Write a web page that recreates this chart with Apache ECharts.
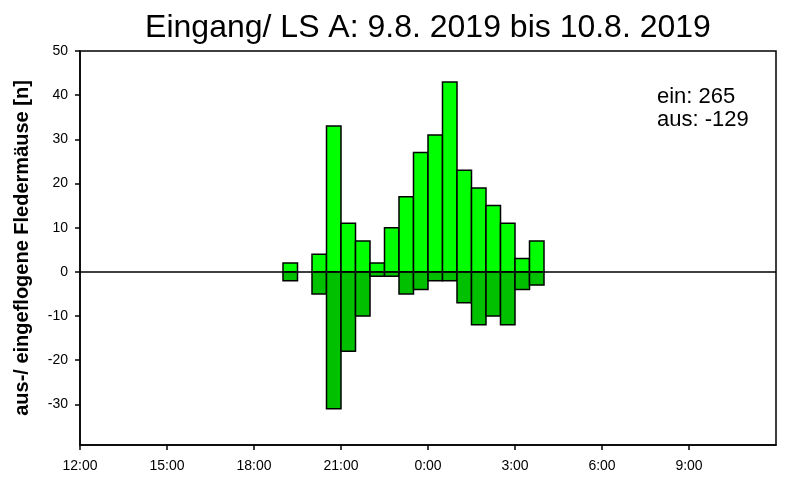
<!DOCTYPE html>
<html>
<head>
<meta charset="utf-8">
<script src="https://cdn.jsdelivr.net/npm/echarts@6/dist/echarts.min.js"></script>
<style>html,body{margin:0;padding:0;background:#fff}#c{width:800px;height:500px}</style>
</head>
<body>
<div id="c"></div>
<script>
// Half-hour bins (start time) and counts
const binStarts = ['19:00','20:00','20:30','21:00','21:30','22:00','22:30','23:00','23:30','0:00','0:30','1:00','1:30','2:00','2:30','3:00','3:30'];
const einValues = [2, 4, 33, 11, 7, 2, 10, 17, 27, 31, 43, 23, 19, 15, 11, 3, 7];
const ausValues = [-2, -5, -31, -18, -10, -1, -1, -5, -4, -2, -2, -7, -12, -10, -12, -4, -3];
const xTickLabels = ['12:00','15:00','18:00','21:00','0:00','3:00','6:00','9:00'];
const yTickValues = [-30, -20, -10, 0, 10, 20, 30, 40, 50];
const titleText = 'Eingang/ LS A: 9.8. 2019 bis 10.8. 2019';
const summaryLines = ['ein: 265', 'aus: -129'];
const yAxisTitle = 'aus-/ eingeflogene Fledermäuse [n]';

// hours since 12:00
function toHours(t) {
  const [h, m] = t.split(':').map(Number);
  return ((h - 12 + 24) % 24) + m / 60;
}
const einData = binStarts.map((t, i) => [toHours(t), einValues[i]]);
const ausData = binStarts.map((t, i) => [toHours(t), ausValues[i]]);

function makeRender(color) {
  return function (params, api) {
    const s = api.value(0), v = api.value(1);
    const p0 = api.coord([s, 0]);
    const p1 = api.coord([s + 0.5, v]);
    return {
      type: 'rect',
      shape: { x: p0[0], y: Math.min(p0[1], p1[1]), width: p1[0] - p0[0], height: Math.abs(p1[1] - p0[1]) },
      style: { fill: color, stroke: '#000', lineWidth: 1.5 }
    };
  };
}

const chart = echarts.init(document.getElementById('c'), null, { renderer: 'canvas' });
const font = 'Liberation Sans, Arial, sans-serif';
chart.setOption({
  animation: false,
  textStyle: { fontFamily: font },
  grid: { left: 80, right: 24, top: 51, bottom: 55, show: true, borderColor: '#000', borderWidth: 1.5, containLabel: false, outerBoundsMode: 'none' },
  graphic: [
    { type: 'text', x: 428, y: 28, style: { text: titleText, font: '32px ' + font, fill: '#000', textAlign: 'center', textVerticalAlign: 'middle' } },
    { type: 'text', x: 657, y: 85, style: { text: summaryLines.join('\n'), font: '22px ' + font, lineHeight: 23, fill: '#000', textAlign: 'left', textVerticalAlign: 'top' } }
  ],
  xAxis: {
    type: 'value', min: 0, max: 24, interval: 3,
    axisLine: { onZero: false, lineStyle: { color: '#000', width: 1.5 } },
    axisTick: { show: true, length: 5, lineStyle: { color: '#000', width: 1.5 } },
    axisLabel: { color: '#000', fontSize: 14, margin: 14, showMaxLabel: false, formatter: v => xTickLabels[Math.round(v / 3)] || '' },
    splitLine: { show: false }
  },
  yAxis: {
    type: 'value', min: -39.2, max: 50,
    name: yAxisTitle, nameLocation: 'middle', nameRotate: 90, nameGap: 48,
    nameTextStyle: { color: '#000', fontSize: 20, fontWeight: 'bold', fontFamily: font },
    axisLine: { lineStyle: { color: '#000', width: 1.5 } },
    axisTick: { show: true, length: 5, customValues: yTickValues, lineStyle: { color: '#000', width: 1.5 } },
    axisLabel: { color: '#000', fontSize: 14, margin: 12, customValues: yTickValues },
    splitLine: { show: false }
  },
  series: [
    {
      type: 'custom', name: 'ein', renderItem: makeRender('#00ff00'), data: einData,
      encode: { x: 0, y: 1 },
      markLine: { silent: true, symbol: 'none', label: { show: false }, lineStyle: { color: '#000', width: 1.5, type: 'solid' }, data: [{ yAxis: 0 }] }
    },
    { type: 'custom', name: 'aus', renderItem: makeRender('#00c000'), data: ausData, encode: { x: 0, y: 1 } }
  ]
});
</script>
</body>
</html>
